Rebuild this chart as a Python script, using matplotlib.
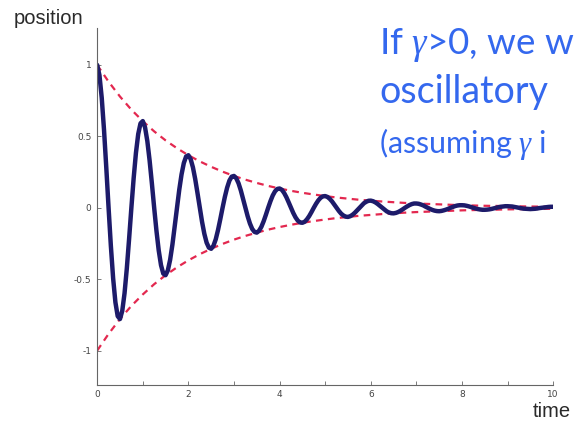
import numpy as np
import matplotlib
matplotlib.use('Agg')
import matplotlib.pyplot as plt

plt.rcParams['mathtext.fontset'] = 'custom'
plt.rcParams['mathtext.it'] = 'Liberation Serif:italic'
plt.rcParams['mathtext.rm'] = 'Lato'

# time grid (step 0.05) and position, one row per period
time = np.arange(201) * 0.05
position = [
    1.000, 0.928, 0.770, 0.546, 0.280, 0.0, -0.266, -0.494, -0.662, -0.759,
    -0.779, -0.722, -0.599, -0.425, -0.218, 0.0, 0.207, 0.384, 0.516, 0.591,
    0.607, 0.563, 0.467, 0.331, 0.170, 0.0, -0.161, -0.299, -0.402, -0.461,
    -0.472, -0.438, -0.364, -0.258, -0.132, 0.0, 0.126, 0.233, 0.313, 0.359,
    0.368, 0.341, 0.283, 0.201, 0.103, 0.0, -0.098, -0.182, -0.244, -0.279,
    -0.287, -0.266, -0.221, -0.156, -0.080, 0.0, 0.076, 0.141, 0.190, 0.218,
    0.223, 0.207, 0.172, 0.122, 0.062, 0.0, -0.059, -0.110, -0.148, -0.169,
    -0.174, -0.161, -0.134, -0.095, -0.049, 0.0, 0.046, 0.086, 0.115, 0.132,
    0.135, 0.126, 0.104, 0.074, 0.038, 0.0, -0.036, -0.067, -0.090, -0.103,
    -0.105, -0.098, -0.081, -0.058, -0.030, 0.0, 0.028, 0.052, 0.070, 0.080,
    0.082, 0.076, 0.063, 0.045, 0.023, 0.0, -0.022, -0.041, -0.054, -0.062,
    -0.064, -0.059, -0.049, -0.035, -0.018, 0.0, 0.017, 0.032, 0.042, 0.049,
    0.050, 0.046, 0.038, 0.027, 0.014, 0.0, -0.013, -0.025, -0.033, -0.038,
    -0.039, -0.036, -0.030, -0.021, -0.011, 0.0, 0.010, 0.019, 0.026, 0.030,
    0.030, 0.028, 0.023, 0.017, 0.008, 0.0, -0.008, -0.015, -0.020, -0.023,
    -0.024, -0.022, -0.018, -0.013, -0.007, 0.0, 0.006, 0.012, 0.016, 0.018,
    0.018, 0.017, 0.014, 0.010, 0.005, 0.0, -0.005, -0.009, -0.012, -0.014,
    -0.014, -0.013, -0.011, -0.008, -0.004, 0.0, 0.004, 0.007, 0.009, 0.011,
    0.011, 0.010, 0.009, 0.006, 0.003, 0.0, -0.003, -0.006, -0.007, -0.008,
    -0.009, -0.008, -0.007, -0.005, -0.002, 0.0, 0.002, 0.004, 0.006, 0.007,
    0.007,
]

# envelope read every quarter unit
env_time = np.arange(41) * 0.25
envelope = [
    1.000, 0.883, 0.779, 0.687, 0.607, 0.535, 0.472, 0.417, 0.368, 0.325,
    0.287, 0.253, 0.223, 0.197, 0.174, 0.153, 0.135, 0.119, 0.105, 0.093,
    0.082, 0.072, 0.064, 0.056, 0.050, 0.044, 0.039, 0.034, 0.030, 0.027,
    0.024, 0.021, 0.018, 0.016, 0.014, 0.013, 0.011, 0.010, 0.009, 0.008,
    0.007,
]

x_ticks = [0, 1, 2, 3, 4, 5, 6, 7, 8, 9, 10]
x_labels = ['0', '', '2', '', '4', '', '6', '', '8', '', '10']
y_ticks = [-1, -0.5, 0, 0.5, 1]
y_labels = ['-1', '-0.5', '0', '0.5', '1']

fig = plt.figure(figsize=(5.75, 4.22), dpi=100)
ax = fig.add_axes([0.169, 0.088, 0.793, 0.846])

env = np.array(envelope)
ax.plot(env_time, env, color='#e3284f', lw=1.6, ls=(0, (3, 2.4)))
ax.plot(env_time, -env, color='#e3284f', lw=1.6, ls=(0, (3, 2.4)))
ax.plot(time, position, color='#1d1b6a', lw=3.2, solid_capstyle='round')

ax.set_xlim(0, 10)
ax.set_ylim(-1.24, 1.26)
ax.set_xticks(x_ticks)
ax.set_xticklabels(x_labels)
ax.set_yticks(y_ticks)
ax.set_yticklabels(y_labels)
ax.tick_params(direction='in', length=3, width=0.6, colors='#666666',
               labelsize=6.5, labelcolor='#444444', pad=4)
for s in ['top', 'right']:
    ax.spines[s].set_visible(False)
for s in ['left', 'bottom']:
    ax.spines[s].set_color('#666666')
    ax.spines[s].set_linewidth(0.8)

fig.text(14 / 575, 1 - 24 / 422, 'position', fontsize=14.5, color='#2a2a2a',
         family='Liberation Sans')
fig.text(533 / 575, 1 - 417 / 422, 'time', fontsize=14.5, color='#2a2a2a',
         family='Liberation Sans')

blue = '#3468ee'
fig.text(379 / 575, 1 - 54 / 422, r'If $\gamma$>0, we w', fontsize=26.5,
         color=blue, family='Lato')
fig.text(379 / 575, 1 - 103 / 422, 'oscillatory', fontsize=27,
         color=blue, family='Lato')
fig.text(379 / 575, 1 - 153 / 422, r'(assuming $\gamma$ i', fontsize=22,
         color=blue, family='Lato')

fig.savefig('out.png', dpi=100)
